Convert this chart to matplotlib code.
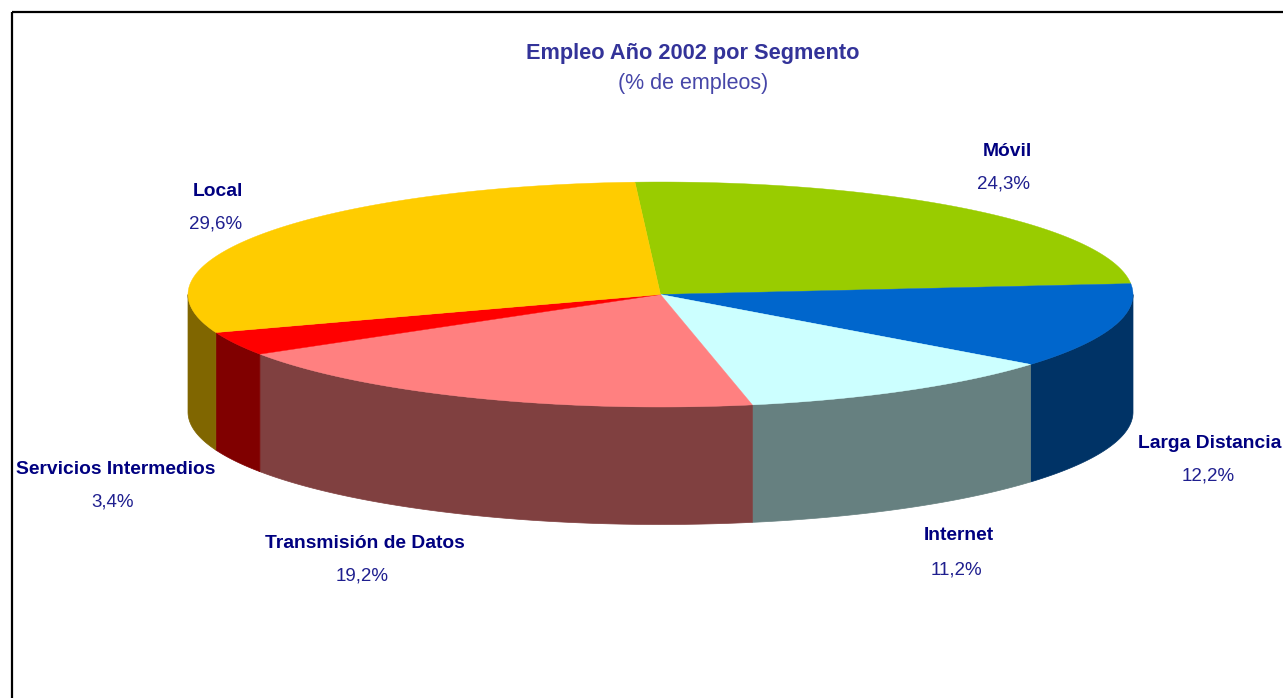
import numpy as np
import matplotlib
matplotlib.use("Agg")
import matplotlib.pyplot as plt
from matplotlib.colors import to_rgb
from matplotlib.patches import Polygon, Rectangle

plt.rcParams["font.family"] = "Liberation Sans"

# clockwise from the top of the pie
segments = ["Móvil", "Larga Distancia", "Internet", "Transmisión de Datos",
            "Servicios Intermedios", "Local"]
shares = [24.3, 12.2, 11.2, 19.2, 3.4, 29.6]
share_labels = ["24,3%", "12,2%", "11,2%", "19,2%", "3,4%", "29,6%"]
colors = ["#99CC00", "#0066CC", "#CCFFFF", "#FF8080", "#FF0000", "#FFCC00"]

title = "Empleo Año 2002 por Segmento"
subtitle = "(% de empleos)"

# layout, in pixels of the picture
cx, cy = 660.5, 294.5
rx, ry = 472.5, 112.5
depth = 117.5
start_angle = 93.1
name_pos = [(1007, 152), (1210, 444), (959, 536), (365, 544), (116, 469), (218, 192)]
value_pos = [(1004, 184), (1208, 476), (956, 570), (362, 576), (113, 502), (216, 224)]


def rim(a1, a2, dy=0):
    t = np.radians(np.linspace(a1, a2, 200))
    return np.column_stack([cx + rx * np.cos(t), cy - ry * np.sin(t) + dy])


fig = plt.figure(figsize=(12.83, 6.98), dpi=100)
ax = fig.add_axes([0, 0, 1, 1])
ax.set_xlim(0, 1283)
ax.set_ylim(698, 0)
ax.axis("off")

ax.add_patch(Rectangle((12, 12), 1400, 800, fill=False, ec="black", lw=1.6))

ends = start_angle - np.cumsum(shares) * 360 / sum(shares)
starts = np.r_[start_angle, ends[:-1]]

# side wall first, only the front half of the rim shows
for a1, a2, c in zip(starts, ends, colors):
    a_hi, a_lo = min(a1, 0), max(a2, -180)
    if a_hi > a_lo:
        wall = np.vstack([rim(a_hi, a_lo), rim(a_lo, a_hi, depth)])
        shade = tuple(v / 2 for v in to_rgb(c))
        ax.add_patch(Polygon(wall, fc=shade, ec=shade, lw=0.5))

for a1, a2, c in zip(starts, ends, colors):
    top = np.vstack([[cx, cy], rim(a1, a2)])
    ax.add_patch(Polygon(top, fc=c, ec=c, lw=0.3))

for name, val, p, q in zip(segments, share_labels, name_pos, value_pos):
    ax.text(p[0], p[1], name, color="#000080", fontsize=13.9, fontweight="bold",
            ha="center", va="center")
    ax.text(q[0], q[1], val, color="#1F1F8F", fontsize=13.5, ha="center", va="center")

ax.text(693, 53, title, color="#333399", fontsize=15.7, fontweight="bold",
        ha="center", va="center")
ax.text(693, 83, subtitle, color="#4646A8", fontsize=15.5, ha="center", va="center")

fig.savefig("out.png", dpi=100, facecolor="white")
